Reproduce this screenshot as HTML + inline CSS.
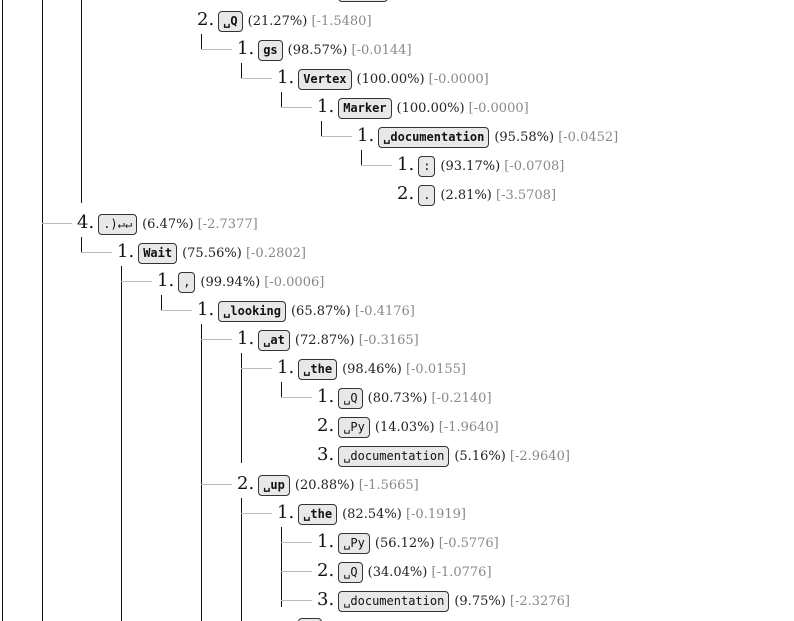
<!DOCTYPE html>
<html><head><meta charset="utf-8"><style>
html,body{margin:0;padding:0;background:#fff;width:794px;height:621px;overflow:hidden;position:relative}
.r{position:absolute;height:26px;line-height:26px;white-space:nowrap;font-family:"DejaVu Serif","Liberation Serif",serif;font-size:13px;color:#222}
.n{font-size:18px;color:#111}
.t{display:inline-block;font-family:"DejaVu Sans Mono","Liberation Mono",monospace;font-size:12px;line-height:19px;padding:0 4px;border:1px solid #333;border-radius:4px;background:#e8e8e8;color:#111;vertical-align:0px;margin:0 5px 0 4px}
.b{font-weight:bold}
.g{color:#888}
.v{position:absolute;width:1px;background:#111}
.h{position:absolute;height:1px;background:#bbb}
.box{position:absolute;border:1px solid #333;border-radius:4px;background:#e8e8e8}
</style></head><body>
<div class="v" style="left:2px;top:0;height:621px"></div>
<div class="v" style="left:42px;top:0;height:621px"></div>
<div class="v" style="left:81px;top:0;height:203px"></div>
<div class="v" style="left:81px;top:237px;height:15px"></div>
<div class="h" style="left:42px;top:223px;width:30px"></div>
<div class="h" style="left:81px;top:252px;width:31px"></div>
<div class="v" style="left:121px;top:266px;height:355px"></div>
<div class="h" style="left:121px;top:281px;width:31px"></div>
<div class="v" style="left:161px;top:295px;height:15px"></div>
<div class="h" style="left:161px;top:310px;width:31px"></div>
<div class="v" style="left:201px;top:324px;height:297px"></div>
<div class="h" style="left:201px;top:339px;width:31px"></div>
<div class="h" style="left:201px;top:484px;width:31px"></div>
<div class="v" style="left:241px;top:353px;height:110px"></div>
<div class="h" style="left:241px;top:368px;width:31px"></div>
<div class="v" style="left:281px;top:382px;height:15px"></div>
<div class="h" style="left:281px;top:397px;width:31px"></div>
<div class="v" style="left:241px;top:498px;height:123px"></div>
<div class="h" style="left:241px;top:513px;width:31px"></div>
<div class="v" style="left:281px;top:527px;height:80px"></div>
<div class="h" style="left:281px;top:542px;width:31px"></div>
<div class="h" style="left:281px;top:571px;width:31px"></div>
<div class="h" style="left:281px;top:600px;width:31px"></div>
<div class="v" style="left:201px;top:34px;height:15px"></div>
<div class="h" style="left:201px;top:49px;width:31px"></div>
<div class="v" style="left:241px;top:63px;height:15px"></div>
<div class="h" style="left:241px;top:78px;width:31px"></div>
<div class="v" style="left:281px;top:92px;height:15px"></div>
<div class="h" style="left:281px;top:107px;width:31px"></div>
<div class="v" style="left:321px;top:121px;height:15px"></div>
<div class="h" style="left:321px;top:136px;width:31px"></div>
<div class="v" style="left:361px;top:150px;height:15px"></div>
<div class="h" style="left:361px;top:165px;width:31px"></div>
<div class="box" style="left:338px;top:-19px;width:48px;height:19px"></div>
<div class="box" style="left:298px;top:618px;width:22px;height:19px"></div>

<div class="r" style="left:197px;top:7px"><span class="n">2.</span><span class="t b">␣Q</span>(21.27%) <span class="g">[-1.5480]</span></div>
<div class="r" style="left:237px;top:36px"><span class="n">1.</span><span class="t b">gs</span>(98.57%) <span class="g">[-0.0144]</span></div>
<div class="r" style="left:277px;top:65px"><span class="n">1.</span><span class="t b">Vertex</span>(100.00%) <span class="g">[-0.0000]</span></div>
<div class="r" style="left:317px;top:94px"><span class="n">1.</span><span class="t b">Marker</span>(100.00%) <span class="g">[-0.0000]</span></div>
<div class="r" style="left:357px;top:123px"><span class="n">1.</span><span class="t b">␣documentation</span>(95.58%) <span class="g">[-0.0452]</span></div>
<div class="r" style="left:397px;top:152px"><span class="n">1.</span><span class="t">:</span>(93.17%) <span class="g">[-0.0708]</span></div>
<div class="r" style="left:397px;top:181px"><span class="n">2.</span><span class="t">.</span>(2.81%) <span class="g">[-3.5708]</span></div>
<div class="r" style="left:77px;top:210px"><span class="n">4.</span><span class="t">.)↵↵</span>(6.47%) <span class="g">[-2.7377]</span></div>
<div class="r" style="left:117px;top:239px"><span class="n">1.</span><span class="t b">Wait</span>(75.56%) <span class="g">[-0.2802]</span></div>
<div class="r" style="left:157px;top:268px"><span class="n">1.</span><span class="t">,</span>(99.94%) <span class="g">[-0.0006]</span></div>
<div class="r" style="left:197px;top:297px"><span class="n">1.</span><span class="t b">␣looking</span>(65.87%) <span class="g">[-0.4176]</span></div>
<div class="r" style="left:237px;top:326px"><span class="n">1.</span><span class="t b">␣at</span>(72.87%) <span class="g">[-0.3165]</span></div>
<div class="r" style="left:277px;top:355px"><span class="n">1.</span><span class="t b">␣the</span>(98.46%) <span class="g">[-0.0155]</span></div>
<div class="r" style="left:317px;top:384px"><span class="n">1.</span><span class="t">␣Q</span>(80.73%) <span class="g">[-0.2140]</span></div>
<div class="r" style="left:317px;top:413px"><span class="n">2.</span><span class="t">␣Py</span>(14.03%) <span class="g">[-1.9640]</span></div>
<div class="r" style="left:317px;top:442px"><span class="n">3.</span><span class="t">␣documentation</span>(5.16%) <span class="g">[-2.9640]</span></div>
<div class="r" style="left:237px;top:471px"><span class="n">2.</span><span class="t b">␣up</span>(20.88%) <span class="g">[-1.5665]</span></div>
<div class="r" style="left:277px;top:500px"><span class="n">1.</span><span class="t b">␣the</span>(82.54%) <span class="g">[-0.1919]</span></div>
<div class="r" style="left:317px;top:529px"><span class="n">1.</span><span class="t">␣Py</span>(56.12%) <span class="g">[-0.5776]</span></div>
<div class="r" style="left:317px;top:558px"><span class="n">2.</span><span class="t">␣Q</span>(34.04%) <span class="g">[-1.0776]</span></div>
<div class="r" style="left:317px;top:587px"><span class="n">3.</span><span class="t">␣documentation</span>(9.75%) <span class="g">[-2.3276]</span></div>
</body></html>
